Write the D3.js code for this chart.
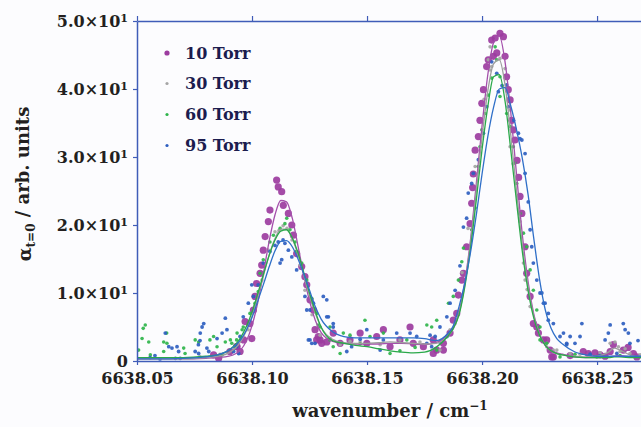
<!DOCTYPE html>
<html><head><meta charset="utf-8">
<script src="https://cdn.jsdelivr.net/npm/d3@7"></script>
<style>body{margin:0;background:#fff}svg{display:block}</style>
</head><body><svg id="c" width="641" height="427"></svg>
<script>
const seriesNames = ["10 Torr","30 Torr","60 Torr","95 Torr"];
const xTicks = [6638.05,6638.10,6638.15,6638.20,6638.25];
const yTicks = [0,10,20,30,40,50];
const yTickMantissa = ["0","1.0","2.0","3.0","4.0","5.0"];

// fitted curves (shared wavenumber grid)
const fitX = [6638.05,6638.06,6638.07,6638.08,6638.085,6638.09,6638.095,6638.10,6638.1025,6638.105,6638.1075,6638.11,6638.1125,6638.115,6638.1175,6638.12,6638.1225,6638.125,6638.1275,6638.13,6638.135,6638.14,6638.145,6638.15,6638.155,6638.16,6638.165,6638.17,6638.175,6638.18,6638.185,6638.1875,6638.19,6638.1925,6638.195,6638.1975,6638.20,6638.2025,6638.205,6638.2075,6638.21,6638.2125,6638.215,6638.2175,6638.22,6638.2225,6638.225,6638.2275,6638.23,6638.2325,6638.235,6638.24,6638.245,6638.25,6638.255,6638.2575,6638.26,6638.265,6638.27];
const fit10 = [0.3,0.3,0.3,0.4,0.5,0.7,1.6,5.2,8.6,13.0,17.7,21.5,23.6,23.4,21.0,16.9,12.6,8.8,6.0,4.2,2.9,2.6,2.5,2.5,2.5,2.6,2.6,2.5,2.4,2.7,3.8,4.9,7.2,11.6,17.9,26.1,34.6,42.1,46.8,47.8,44.0,36.5,27.4,18.6,11.7,6.9,3.9,2.3,1.6,1.2,1.0,0.6,0.5,0.5,0.6,0.7,0.8,0.6,0.5];
const fit30 = [0.3,0.3,0.3,0.5,0.7,1.2,2.8,6.6,9.5,12.6,15.6,18.0,19.4,19.4,18.0,15.6,12.6,9.6,7.0,5.0,3.2,2.7,2.6,2.6,2.7,2.8,2.7,2.6,2.5,2.6,3.6,4.7,7.0,11.2,17.4,25.1,33.0,39.7,43.7,44.3,40.6,33.2,25.0,17.2,11.0,6.6,3.9,2.3,1.5,1.1,0.9,0.7,0.6,0.7,1.3,1.9,1.6,0.8,0.6];
const fit60 = [0.5,0.5,0.5,0.7,0.9,1.6,3.4,7.2,9.9,12.8,15.6,17.8,19.1,19.3,18.1,15.9,13.0,10.0,7.3,5.0,3.0,2.6,2.3,2.1,1.8,1.5,1.3,1.2,1.3,2.0,3.6,4.8,6.8,10.9,16.6,23.7,31.1,37.4,41.8,42.1,38.2,31.0,23.4,16.1,10.4,6.3,3.8,2.3,1.5,1.1,0.9,0.6,0.5,0.5,0.5,0.6,0.6,0.5,0.5];
const fit95 = [0.3,0.3,0.4,0.6,0.9,1.6,3.1,6.4,8.8,11.3,13.9,16.2,17.6,17.7,16.8,15.0,12.8,10.4,8.0,6.2,4.3,3.6,3.4,3.4,3.4,3.4,3.4,3.4,3.3,3.0,4.0,5.2,8.0,11.5,16.0,21.5,27.5,33.0,37.3,40.0,40.2,37.5,34.0,29.8,24.5,18.0,12.0,7.5,4.8,3.3,2.5,1.4,0.9,0.7,0.7,0.7,0.7,0.7,0.7];

// measured points [wavenumber, alpha]
const pts10 = [[6638.0833,0.9],[6638.0855,0.4],[6638.0904,1.4],[6638.0935,2.1],[6638.0964,3.1],[6638.0970,5.8],[6638.0933,2.1],[6638.0948,1.4],
[6638.1107,26.6],[6638.1114,25.6],[6638.1129,24.9],[6638.1136,22.9],[6638.1158,21.7],[6638.1078,22.2],[6638.1071,20.5],[6638.1173,20.0],[6638.1180,18.5],[6638.1057,18.3],[6638.1049,16.3],[6638.1194,15.8],[6638.1042,14.1],[6638.1216,13.9],[6638.1035,12.9],[6638.1230,12.4],[6638.1020,11.4],[6638.1238,11.2],[6638.1013,9.5],[6638.1252,9.0],[6638.1006,7.5],[6638.1267,7.5],[6638.0991,5.5],[6638.0999,3.3],[6638.1274,4.6],[6638.1288,3.6],[6638.1296,3.1],[6638.1303,2.6],[6638.1325,2.8],
[6638.1281,3.1],[6638.1353,4.1],[6638.1383,2.6],[6638.1426,3.1],[6638.1470,4.1],[6638.1499,2.6],[6638.1542,3.6],[6638.1571,4.6],[6638.1600,2.1],[6638.1643,3.1],[6638.1687,5.0],[6638.1701,2.6],[6638.1745,2.1],[6638.1788,3.1],[6638.1832,1.6],
[6638.2078,48.2],[6638.2057,47.5],[6638.2093,47.7],[6638.2042,47.2],[6638.2064,45.3],[6638.2049,44.8],[6638.2027,44.3],[6638.2100,44.8],[6638.2020,43.3],[6638.2107,41.8],[6638.2006,39.9],[6638.2114,39.9],[6638.1999,37.9],[6638.2122,38.4],[6638.1991,35.4],[6638.2129,35.4],[6638.1984,33.0],[6638.2136,34.0],[6638.1970,31.0],[6638.2143,32.5],
[6638.1962,27.5],[6638.1959,25.5],[6638.2152,29.5],[6638.2159,27.0],
[6638.1955,23.2],[6638.1948,20.2],[6638.1933,16.8],[6638.1919,12.9],[6638.1912,11.9],[6638.1897,9.7],[6638.1890,7.0],[6638.1875,6.0],[6638.1861,4.1],[6638.1832,2.6],[6638.1803,1.6],[6638.1788,1.1],
[6638.2165,24.2],[6638.2173,21.7],[6638.2187,16.8],[6638.2194,12.9],[6638.2209,9.5],[6638.2238,5.0],[6638.2245,4.1],[6638.2267,3.1],[6638.2296,1.6],[6638.2310,0.6],
[6638.2223,5.5],[6638.2281,3.1],[6638.2303,0.6],[6638.2440,1.4],[6638.2462,1.1],[6638.2513,0.9],[6638.2557,1.4],[6638.2571,2.4],[6638.2614,1.6],[6638.2658,1.1],[6638.2673,0.6],[6638.2383,0.8],[6638.2491,1.2],[6638.2535,0.7],[6638.2635,2.0]];

const pts30 = [[6638.2042,43.3],[6638.2035,42.8],[6638.2122,36.9],[6638.1970,28.6],[6638.2122,31.5],[6638.2035,46.2],[6638.2027,44.3],[6638.2180,14.4],[6638.2187,11.9],[6638.2209,8.0],[6638.1883,5.5],[6638.1861,4.6],[6638.2281,2.1],[6638.2310,1.6],[6638.1939,19.5],[6638.1913,13.0],[6638.2165,20.5],[6638.2196,10.5],[6638.2009,38.5],[6638.2135,29.0],[6638.2078,44.5],[6638.2100,43.0],
[6638.2281,2.6],[6638.2325,1.6],[6638.2383,1.1],[6638.2557,2.6],[6638.2578,2.8],[6638.2593,2.1],[6638.2600,1.4],[6638.2643,1.1],[6638.2687,0.9],[6638.2513,1.2],[6638.2470,0.8],[6638.2426,1.0],[6638.2622,1.8],
[6638.1135,19.9],[6638.1100,19.0],[6638.1174,17.8],[6638.1070,16.3],[6638.1209,14.1],[6638.1043,11.9],[6638.1230,10.4],[6638.1013,8.2],[6638.1261,6.8],[6638.0983,4.6],[6638.1296,3.8],[6638.1152,19.5],[6638.1117,19.2],
[6638.1383,2.4],[6638.1470,2.8],[6638.1557,2.4],[6638.1643,3.1],[6638.1730,2.8],[6638.1817,1.6],[6638.1339,3.3],[6638.1426,2.9],
[6638.0774,0.6],[6638.0861,1.0],[6638.0926,2.0]];

const pts60 = [[6638.0536,5.3],[6638.0522,3.3],[6638.0551,2.8],[6638.0558,0.9],[6638.0507,1.6],[6638.0616,2.8],[6638.0630,2.6],[6638.0616,1.4],[6638.0703,1.9],[6638.0753,3.1],[6638.0768,2.8],[6638.0833,3.6],[6638.0848,2.1],[6638.0870,0.9],[6638.0884,2.8],[6638.0906,3.1],[6638.0927,2.1],[6638.0935,4.1],[6638.0957,4.6],[6638.0527,4.8],[6638.0629,4.1],[6638.0709,1.1],[6638.0817,3.1],
[6638.1143,20.2],[6638.1151,21.0],[6638.1165,19.3],[6638.1093,18.5],[6638.1078,17.5],[6638.1187,17.5],[6638.1194,16.1],[6638.1049,14.9],[6638.1035,12.9],[6638.1216,14.4],[6638.1238,11.9],[6638.1027,10.2],[6638.1013,8.5],[6638.1260,9.2],[6638.0991,7.0],[6638.1281,7.0],[6638.0962,5.0],[6638.1296,5.0],[6638.0933,3.1],[6638.1339,3.1],[6638.1353,2.1],[6638.0912,2.6],[6638.1122,19.5],
[6638.1288,5.3],[6638.1339,5.0],[6638.1397,4.1],[6638.1491,6.0],[6638.1426,3.8],[6638.1571,4.1],[6638.1600,1.1],[6638.1673,3.1],[6638.1760,5.3],[6638.1803,1.6],[6638.1847,3.6],[6638.1383,1.1],[6638.1513,3.6],[6638.1643,1.5],[6638.1709,2.0],[6638.1470,2.5],
[6638.2057,46.2],[6638.2064,44.3],[6638.2042,41.6],[6638.2078,41.8],[6638.2078,38.9],[6638.2027,39.1],[6638.2013,36.4],[6638.2107,36.4],[6638.1999,34.0],[6638.2122,34.5],[6638.1991,31.5],[6638.2136,31.5],[6638.1984,28.6],[6638.2143,29.1],[6638.2151,26.1],[6638.1970,22.5],[6638.1955,19.3],[6638.1919,16.6],[6638.1912,14.6],[6638.1897,11.9],[6638.1875,9.5],[6638.1854,8.5],[6638.1803,6.0],[6638.1781,5.0],[6638.2165,21.7],[6638.2180,18.8],[6638.2194,16.8],[6638.2209,13.4],[6638.2223,10.4],[6638.2238,7.5],[6638.2252,5.0],[6638.2281,2.6],
[6638.2252,3.1],[6638.2339,0.6],[6638.2499,0.6],[6638.2404,1.0],[6638.2600,0.8]];

const pts95 = [[6638.0623,4.1],[6638.0638,2.1],[6638.0652,1.9],[6638.0674,2.1],[6638.0681,1.4],[6638.0667,0.4],[6638.0688,0.4],[6638.0753,1.4],[6638.0768,1.1],[6638.0775,4.1],[6638.0783,5.0],[6638.0790,5.5],[6638.0804,1.9],[6638.0812,1.4],[6638.0848,3.3],[6638.0870,4.1],[6638.0884,6.3],[6638.0891,4.6],[6638.0920,1.4],[6638.0942,1.1],[6638.0774,3.0],[6638.0767,2.4],[6638.0557,0.5],[6638.0578,0.8],[6638.0600,0.3],
[6638.1129,14.9],[6638.1122,14.4],[6638.1114,17.5],[6638.1158,16.3],[6638.1143,17.3],[6638.1078,16.1],[6638.1173,15.3],[6638.1049,14.4],[6638.1194,13.4],[6638.1027,11.2],[6638.0999,11.2],[6638.1006,9.5],[6638.0984,8.5],[6638.1230,9.5],[6638.1252,7.5],[6638.1310,9.5],[6638.1325,9.0],[6638.1332,6.5],[6638.1245,3.1],[6638.1260,2.6],[6638.0962,6.5],[6638.0948,3.6],[6638.0933,2.1],[6638.1353,5.0],[6638.1135,17.8],[6638.1100,17.0],
[6638.1238,7.5],[6638.1267,8.5],[6638.1325,6.5],[6638.1252,3.1],[6638.1274,2.6],[6638.1412,1.4],[6638.1433,2.1],[6638.1557,1.6],[6638.1571,3.1],[6638.1629,4.1],[6638.1687,4.1],[6638.1716,3.6],[6638.1760,2.6],[6638.1817,2.8],[6638.1847,3.6],[6638.1499,4.6],[6638.1353,5.5],[6638.1470,3.2],[6638.1774,3.8],
[6638.2064,42.3],[6638.2042,44.0],[6638.2071,39.6],[6638.2107,40.6],[6638.2114,37.4],[6638.2136,35.4],[6638.2158,33.5],[6638.2173,32.5],[6638.2187,30.5],[6638.2187,27.6],[6638.2020,37.4],[6638.2006,33.5],[6638.1984,29.6],[6638.1962,27.6],[6638.1955,26.1],[6638.1940,24.7],[6638.1933,21.0],[6638.1919,19.7],[6638.1883,10.4],[6638.1861,8.5],[6638.1847,6.5],[6638.1817,5.0],[6638.1796,3.6],[6638.1781,2.1],[6638.2201,23.4],[6638.2209,19.3],[6638.2216,16.8],[6638.2223,14.4],[6638.2238,11.9],[6638.2260,10.0],[6638.2274,8.5],[6638.2288,7.0],[6638.2310,5.5],[6638.2339,3.6],[6638.2368,2.6],[6638.2165,32.7],[6638.1904,14.0],[6638.2087,40.5],
[6638.2252,10.0],[6638.2267,8.5],[6638.2288,6.0],[6638.2354,4.1],[6638.2383,3.6],[6638.2404,2.6],[6638.2434,5.5],[6638.2426,3.6],[6638.2368,2.4],[6638.2557,5.3],[6638.2549,4.1],[6638.2535,3.1],[6638.2614,5.5],[6638.2622,4.6],[6638.2636,4.1],[6638.2643,2.6],[6638.2586,1.1],[6638.2470,1.0],[6638.2678,3.0],[6638.2513,0.8]];

const svg = d3.select("#c");
const W = 641, H = 427, L = 137, T = 21, B = 361, R = 641;
const x = d3.scaleLinear().domain([6638.05, 6638.2691]).range([L, R]);
const y = d3.scaleLinear().domain([0, 50]).range([B, T]);
const FONT = "'DejaVu Serif', serif";
const axisBlue = "#3f5cb8";

svg.append("rect").attr("width", W).attr("height", H).attr("fill", "#fcfcfe");
svg.append("defs").append("clipPath").attr("id", "clip")
  .append("rect").attr("x", L).attr("y", T - 6).attr("width", R - L).attr("height", B - T + 9);

const series = [
  {name: seriesNames[0], pts: pts10, fit: fit10, fill: "#9c3c9f", stroke: "#a44fab", r: 3.6},
  {name: seriesNames[1], pts: pts30, fit: fit30, fill: "#a5a5a5", stroke: "#9d9d9d", r: 1.8},
  {name: seriesNames[2], pts: pts60, fit: fit60, fill: "#2fb44b", stroke: "#2aa84a", r: 1.8},
  {name: seriesNames[3], pts: pts95, fit: fit95, fill: "#2e5ec0", stroke: "#2f6fc8", r: 1.9}
];

const plot = svg.append("g").attr("clip-path", "url(#clip)");
series.forEach(s => {
  plot.append("g").selectAll("circle").data(s.pts).join("circle")
    .attr("cx", d => x(d[0])).attr("cy", d => y(d[1])).attr("r", s.r)
    .attr("fill", s.fill).attr("fill-opacity", 0.92);
});
const line = d3.line().x((d, i) => x(fitX[i])).y(d => y(d)).curve(d3.curveMonotoneX);
series.forEach(s => {
  plot.append("path").datum(s.fit).attr("d", line)
    .attr("fill", "none").attr("stroke", s.stroke).attr("stroke-width", 1.3);
});

// axes
function styleAxis(g) {
  g.select(".domain").attr("stroke", axisBlue).attr("stroke-width", 1.5);
  g.selectAll(".tick line").attr("stroke", axisBlue).attr("stroke-width", 1.2);
  g.selectAll(".tick text").attr("font-family", FONT).attr("font-weight", "bold")
    .attr("font-size", "16px").attr("fill", "#231f20");
}
const gx = svg.append("g").attr("transform", `translate(0,${B})`)
  .call(d3.axisBottom(x).tickValues(xTicks).tickSize(4).tickSizeOuter(0).tickPadding(8).tickFormat(d3.format(".2f")));
styleAxis(gx);
const gt = svg.append("g").attr("transform", `translate(0,${T})`)
  .call(d3.axisTop(x).tickValues(xTicks).tickSize(5).tickSizeOuter(0).tickFormat(""));
styleAxis(gt);
const gy = svg.append("g").attr("transform", `translate(${L},0)`)
  .call(d3.axisLeft(y).tickValues(yTicks).tickSize(4).tickSizeOuter(0).tickPadding(5));
styleAxis(gy);
gy.selectAll(".tick text").each(function(d, i) {
  const t = d3.select(this);
  t.text(null);
  if (d === 0) { t.text(yTickMantissa[i]); return; }
  t.append("tspan").text(yTickMantissa[i] + "\u00d710");
  t.append("tspan").attr("dy", "-0.45em").attr("font-size", "11px").text("1");
});

// axis titles
const xt = svg.append("text").attr("x", 390).attr("y", 417).attr("text-anchor", "middle")
  .attr("font-family", FONT).attr("font-weight", "bold").attr("font-size", "18px").attr("fill", "#231f20");
xt.append("tspan").text("wavenumber / cm");
xt.append("tspan").attr("dy", "-0.55em").attr("font-size", "12px").text("\u22121");

const yt = svg.append("text").attr("transform", "translate(31,184) rotate(-90)").attr("text-anchor", "middle")
  .attr("font-family", FONT).attr("font-weight", "bold").attr("font-size", "18px").attr("fill", "#231f20");
yt.append("tspan").text("\u03b1");
yt.append("tspan").attr("dy", "0.3em").attr("font-size", "12px").text("t=0");
yt.append("tspan").attr("dy", "-0.3em").text(" / arb. units");

// legend
const legY = [53, 83.5, 114.5, 145.5];
const leg = svg.append("g");
series.forEach((s, i) => {
  leg.append("circle").attr("cx", 167).attr("cy", legY[i]).attr("r", i === 0 ? 2.6 : 1.6).attr("fill", s.fill);
  leg.append("text").attr("x", 185).attr("y", legY[i]).attr("dy", "0.35em")
    .attr("font-family", FONT).attr("font-weight", "bold").attr("font-size", "16px")
    .attr("fill", "#1c1c4e").text(s.name);
});
</script></body></html>
